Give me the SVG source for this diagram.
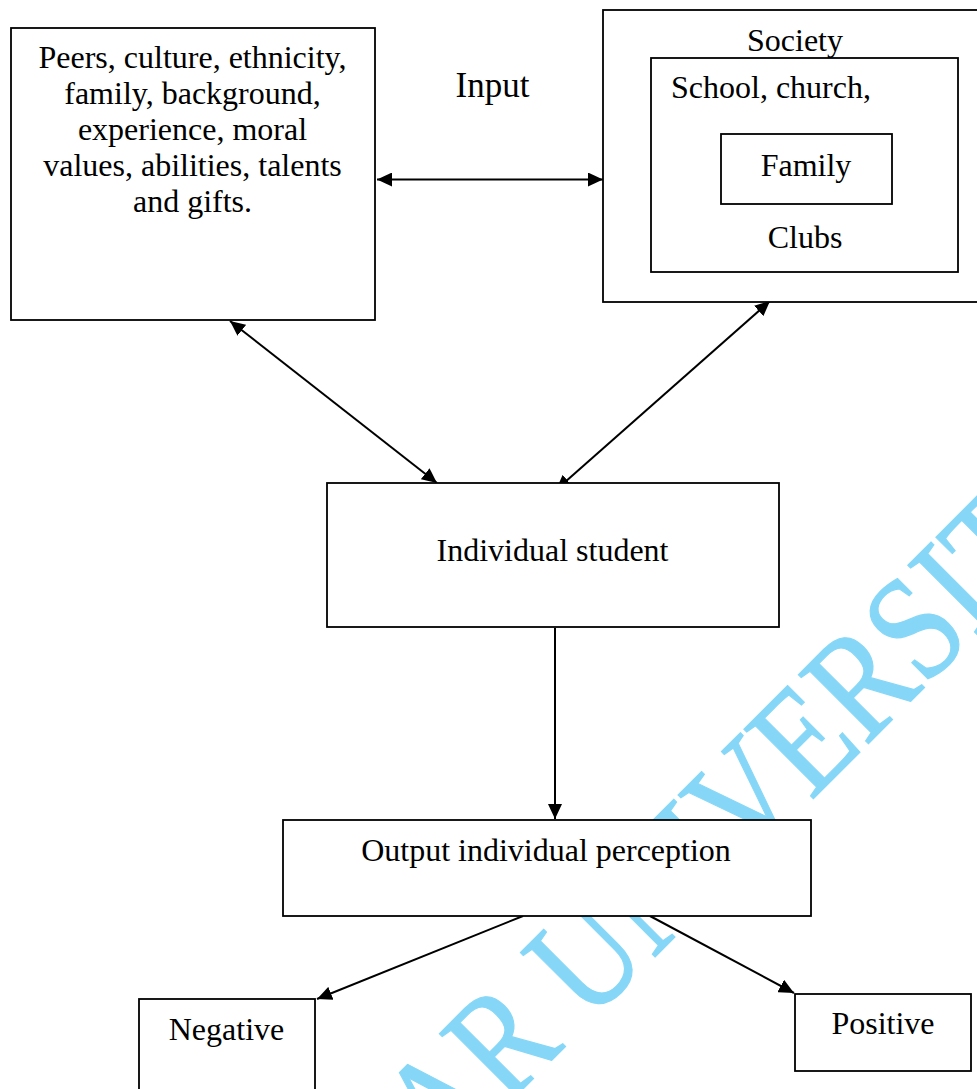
<svg xmlns="http://www.w3.org/2000/svg" width="977" height="1089" viewBox="0 0 977 1089">
<style>
.box{fill:#fff;stroke:#000;stroke-width:1.8}
.t{font-family:"Liberation Serif","Times New Roman",serif;font-size:32px;fill:#000;text-anchor:middle}
.c{fill:none;stroke:#000;stroke-width:2}
.wm{font-family:"Liberation Serif","Times New Roman",serif;font-size:150px;fill:#86D7F7;stroke:#86D7F7;stroke-width:1.2}
</style>
<defs>
<marker id="ah" markerUnits="userSpaceOnUse" markerWidth="16" markerHeight="14" refX="15" refY="7" orient="auto-start-reverse" viewBox="0 0 16 14">
<path d="M0,0 L15,7 L0,14 z" fill="#000"/>
</marker>
</defs>
<rect width="977" height="1089" fill="#fff"/>
<g id="watermark">
<text class="wm" transform="translate(442,1170) rotate(-45) scale(0.84,1)">AR UNIVERSITY</text>
</g>
<g id="connectors">
<line class="c" x1="377" y1="179.5" x2="603" y2="179.5" marker-start="url(#ah)" marker-end="url(#ah)"/>
<line class="c" x1="230" y1="321" x2="437" y2="483" marker-start="url(#ah)" marker-end="url(#ah)"/>
<line class="c" x1="770" y1="301" x2="556" y2="490" marker-start="url(#ah)" marker-end="url(#ah)"/>
<line class="c" x1="555" y1="628" x2="555" y2="819" marker-end="url(#ah)"/>
<line class="c" x1="523" y1="916" x2="317" y2="999" marker-end="url(#ah)"/>
<line class="c" x1="650" y1="916" x2="794" y2="993" marker-end="url(#ah)"/>
</g>
<g id="factors">
<rect class="box" x="11" y="28" width="364" height="292"/>
<text class="t" x="192.5" y="68">Peers, culture, ethnicity,</text>
<text class="t" x="192.5" y="104">family, background,</text>
<text class="t" x="192.5" y="140">experience, moral</text>
<text class="t" x="192.5" y="176">values, abilities, talents</text>
<text class="t" x="192.5" y="212">and gifts.</text>
</g>
<g id="input-label">
<text class="t" x="492.5" y="97" style="font-size:35px">Input</text>
</g>
<g id="society">
<rect class="box" x="603" y="10" width="390" height="292"/>
<text class="t" x="795" y="51">Society</text>
</g>
<g id="school">
<rect class="box" x="651" y="58" width="307" height="214"/>
<text class="t" x="771" y="98">School, church,</text>
<text class="t" x="805" y="248">Clubs</text>
</g>
<g id="family">
<rect class="box" x="721" y="134" width="171" height="70"/>
<text class="t" x="806" y="176">Family</text>
</g>
<g id="student">
<rect class="box" x="327" y="483" width="452" height="144"/>
<text class="t" x="552.5" y="561">Individual student</text>
</g>
<g id="output">
<rect class="box" x="283" y="820" width="528" height="96"/>
<text class="t" x="546" y="861">Output individual perception</text>
</g>
<g id="negative">
<rect class="box" x="139" y="999" width="176" height="110"/>
<text class="t" x="226.5" y="1040">Negative</text>
</g>
<g id="positive">
<rect class="box" x="795" y="994" width="176" height="77"/>
<text class="t" x="883" y="1034">Positive</text>
</g>
</svg>
